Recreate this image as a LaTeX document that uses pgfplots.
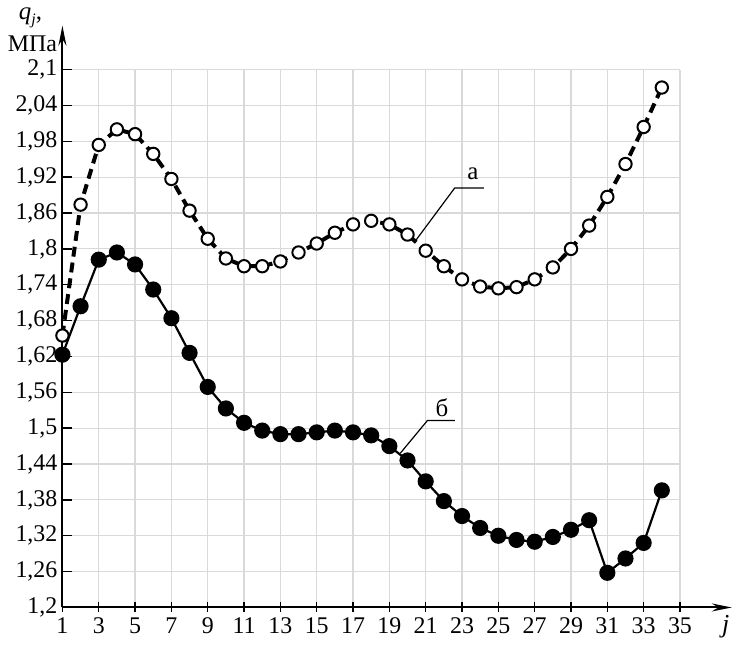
\documentclass[border=4pt]{standalone}
\usepackage{fontspec}
\setmainfont{Liberation Serif}
\usepackage{pgfplots}
\pgfplotsset{compat=1.18}
\usetikzlibrary{arrows.meta}

% series a: open circles, dashed line
\pgfplotstableread{
x y
1 1.655
2 1.874
3 1.974
4 2.000
5 1.992
6 1.959
7 1.917
8 1.864
9 1.817
10 1.784
11 1.771
12 1.771
13 1.779
14 1.794
15 1.809
16 1.827
17 1.841
18 1.847
19 1.841
20 1.824
21 1.797
22 1.771
23 1.749
24 1.737
25 1.734
26 1.736
27 1.749
28 1.769
29 1.800
30 1.839
31 1.887
32 1.942
33 2.004
34 2.070
}\seriesa

% series b: filled circles, solid line
\pgfplotstableread{
x y
1 1.623
2 1.704
3 1.782
4 1.794
5 1.774
6 1.732
7 1.684
8 1.626
9 1.569
10 1.533
11 1.509
12 1.496
13 1.490
14 1.490
15 1.493
16 1.496
17 1.493
18 1.488
19 1.470
20 1.446
21 1.411
22 1.378
23 1.353
24 1.333
25 1.320
26 1.313
27 1.310
28 1.318
29 1.330
30 1.346
31 1.258
32 1.282
33 1.308
34 1.396
}\seriesb

\begin{document}
\begin{tikzpicture}
\begin{axis}[
    scale only axis,
    width=310pt, height=270pt,
    xmin=1, xmax=35, ymin=1.2, ymax=2.1,
    axis lines=left,
    axis line style={line width=1pt, -{Stealth[length=10pt,width=4pt]}},
    x axis line style={shorten >=-26pt},
    y axis line style={shorten >=-22pt},
    xtick={1,3,...,35},
    ytick={1.2,1.26,1.32,1.38,1.44,1.5,1.56,1.62,1.68,1.74,1.8,1.86,1.92,1.98,2.04,2.1},
    grid=major,
    grid style={gray!30, line width=0.6pt},
    xtick align=center, ytick align=inside,
    major tick length=5pt,
    tick style={black, line width=0.7pt},
    /pgf/number format/use comma,
    /pgf/number format/assume math mode=true,
    yticklabel style={/pgf/number format/fixed, /pgf/number format/precision=2, xshift=1pt},
    xticklabel style={yshift=1pt},
    tick label style={font=\fontsize{12}{14}\selectfont},
    clip=false,
]
\addplot[black, line width=2pt, dash pattern=on 5pt off 3pt,
         mark=*, mark size=3.1pt,
         mark options={solid, fill=white, line width=1pt}]
    table[x=x, y=y] {\seriesa};
\addplot[black, line width=1.1pt, mark=*, mark size=3.5pt,
         mark options={solid, fill=black}]
    table[x=x, y=y] {\seriesb};

% leaders and curve labels
\draw[line width=0.6pt] (axis cs:20.4,1.812) -- (axis cs:22.6,1.902) -- (axis cs:24.2,1.902);
\node[font=\fontsize{12.5}{14}\selectfont] at (axis cs:23.6,1.925) {а};
\draw[line width=0.6pt] (axis cs:19.6,1.458) -- (axis cs:21.1,1.513) -- (axis cs:22.6,1.513);
\node[font=\fontsize{12.5}{14}\selectfont] at (axis cs:21.9,1.534) {б};

% axis titles
\node[inner sep=0pt, font=\fontsize{12.5}{14}\selectfont] at ([xshift=-16pt, yshift=26pt]rel axis cs:0,1)
    {\textit{q}\raisebox{-0.4ex}{\footnotesize\textit{j}},};
\node[inner sep=0pt, font=\fontsize{12}{14}\selectfont] at ([xshift=-15pt, yshift=13pt]rel axis cs:0,1) {МПа};
\node[font=\fontsize{13}{15}\selectfont] at ([xshift=23pt, yshift=-9.5pt]rel axis cs:1,0) {\textit{j}};
\end{axis}
\end{tikzpicture}
\end{document}
